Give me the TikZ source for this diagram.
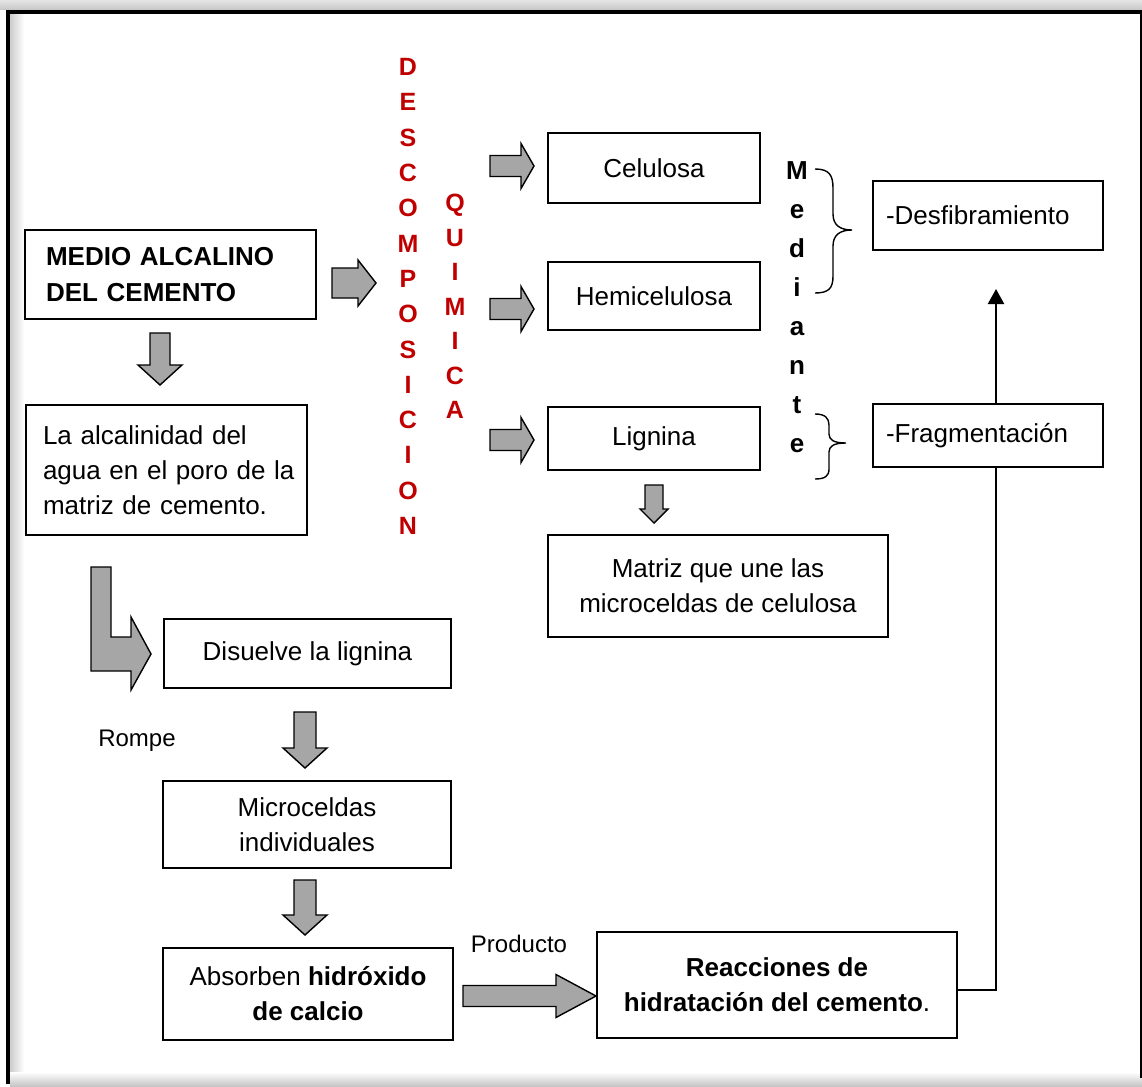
\documentclass[tikz,border=0pt]{standalone}
\usepackage{fontspec}
\setmainfont{Liberation Sans}
\usetikzlibrary{arrows.meta,backgrounds}
\definecolor{redtxt}{HTML}{C00000}
\definecolor{arrowgray}{HTML}{A6A6A6}

% right-pointing block arrow: start x, tip x, centre y, shaft half-width, head half-width, head length
\newcommand{\rightblock}[6]{%
  \draw[blockarrow] (#1,#3-#4) -- (#2-#6,#3-#4) -- (#2-#6,#3-#5) -- (#2,#3)
    -- (#2-#6,#3+#5) -- (#2-#6,#3+#4) -- (#1,#3+#4) -- cycle;}
% downward block arrow: centre x, start y, tip y, shaft half-width, head half-width, head length
\newcommand{\downblock}[6]{%
  \draw[blockarrow] (#1-#4,#2) -- (#1+#4,#2) -- (#1+#4,#3-#6) -- (#1+#5,#3-#6)
    -- (#1,#3) -- (#1-#5,#3-#6) -- (#1-#4,#3-#6) -- cycle;}

\begin{document}
\begin{tikzpicture}[x=1pt,y=-1pt,
  box/.style={draw, fill=white, line width=2pt, inner sep=0pt, align=center,
    font=\fontsize{26}{35}\selectfont},
  blockarrow/.style={draw, fill=arrowgray, line width=1.4pt, line join=miter},
  link/.style={line width=2.2pt},
  redword/.style={text=redtxt, inner sep=0pt, align=center},
  label/.style={inner sep=0pt, font=\fontsize{24}{28}\selectfont},
]
\useasboundingbox (0,0) rectangle (1142,1086);

% page frame with its shadow
\shade[top color=gray!20, bottom color=gray!45] (0,0) rectangle (1142,10);
\shade[left color=gray!40, right color=white] (10,14) rectangle (24,1076);
\shade[top color=white, bottom color=gray!45] (10,1072) rectangle (1142,1086);
\draw[line width=4pt] (8,1084) -- (8,12) -- (1142,12);
\draw[line width=1.2pt] (1141,12) -- (1141,1078);

% left column
\node[box, minimum width=291, minimum height=89, text width=249, align=left,
  font=\fontsize{26}{36}\selectfont\bfseries] (medio) at (170.5,274.5)
  {MEDIO ALCALINO\\DEL CEMENTO};
\node[box, minimum width=281, minimum height=130, text width=246, align=left] (alca) at (166,470)
  {\makebox[246pt][s]{La alcalinidad del}\\\makebox[246pt][s]{agua en el poro de la}\\matriz de cemento.};
\node[box, minimum width=287, minimum height=69] (disu) at (307.5,653.5) {Disuelve la lignina};
\node[box, minimum width=288, minimum height=87] (micro) at (307,824.5) {Microceldas\\individuales};
\node[box, minimum width=290, minimum height=92] (absor) at (308,994)
  {Absorben \textbf{hidróxido}\\\textbf{de calcio}};
\node[box, minimum width=360, minimum height=106] (reac) at (777,985)
  {\textbf{Reacciones de}\\\textbf{hidratación del cemento}.};

% middle column
\node[box, minimum width=212, minimum height=70] (celu) at (654,168) {Celulosa};
\node[box, minimum width=212, minimum height=68] (hemi) at (654,296) {Hemicelulosa};
\node[box, minimum width=212, minimum height=63] (lign) at (654,438.5) {Lignina};
\node[box, minimum width=340, minimum height=102] (matr) at (718,586)
  {Matriz que une las\\microceldas de celulosa};

% right column
\node[box, minimum width=230, minimum height=69, text width=204, align=left] (desf) at (988,215.5)
  {-Desfibramiento};
\node[box, minimum width=230, minimum height=63, text width=204, align=left] (frag) at (988,435.5)
  {-Fragmentación};

% vertical words
\node[redword, font=\fontsize{25}{35.3}\selectfont\bfseries] (descomp) at (408,296.5)
  {D\\E\\S\\C\\O\\M\\P\\O\\S\\I\\C\\I\\O\\N};
\node[redword, font=\fontsize{25}{34.5}\selectfont\bfseries] (quim) at (455,306.5)
  {Q\\U\\I\\M\\I\\C\\A};
\node[inner sep=0pt, align=center, font=\fontsize{26}{39}\selectfont\bfseries] (medi) at (797,307.5)
  {M\\e\\d\\i\\a\\n\\t\\e};

% labels
\node[label] (rompe) at (137,741) {Rompe};
\node[label] (prod) at (519,944) {Producto};

% block arrows
\rightblock{332}{376}{283}{15}{23}{18}
\rightblock{490}{534}{166}{10.5}{22.5}{13}
\rightblock{490}{534}{309}{10.5}{22.5}{13}
\rightblock{490}{534}{440}{10.5}{22.5}{13}
\downblock{160}{333}{385}{10}{22}{20}
\downblock{654}{485}{523}{9}{14}{14}
\downblock{305}{712}{768}{11}{22}{20}
\downblock{305}{880}{935}{11}{22}{20}
\rightblock{463}{596}{996}{10.5}{21.5}{40}
\draw[blockarrow] (91,567) -- (111,567) -- (111,637) -- (131,637) -- (131,617)
  -- (151,654) -- (131,690) -- (131,671) -- (91,671) -- cycle;

% braces after "Mediante"
\draw[line width=1.4pt] (815,169) .. controls (829,169) and (833,175) .. (833,188)
  -- (833,214) .. controls (833,225) and (840,230) .. (852,230)
  .. controls (840,230) and (833,235) .. (833,246)
  -- (833,276) .. controls (833,288) and (829,293) .. (815,293);
\draw[line width=1.4pt] (815,414) .. controls (825,414) and (829,418) .. (829,425)
  -- (829,434) .. controls (829,440) and (834,443) .. (846,443)
  .. controls (834,443) and (829,446) .. (829,452)
  -- (829,469) .. controls (829,476) and (825,479) .. (815,479);

% feedback connector, passing behind the "-Fragmentación" box
\begin{pgfonlayer}{background}
\draw[link, -{Triangle[length=15pt,width=16pt]}, shorten >=38pt]
  ([yshift=-5pt]reac.east) -| ([xshift=8pt]desf.south);
\end{pgfonlayer}
\end{tikzpicture}
\end{document}
